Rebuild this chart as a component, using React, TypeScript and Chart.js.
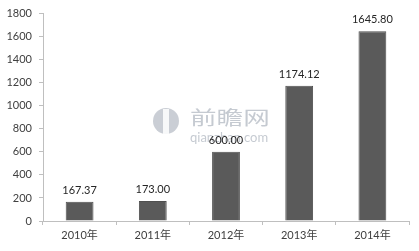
import React, { useEffect, useRef } from "react";
import { Chart, registerables } from "chart.js";

Chart.register(...registerables);

const years = ["2010年", "2011年", "2012年", "2013年", "2014年"];
const values = [167.37, 173.0, 600.0, 1174.12, 1645.8];
const yTicks = [0, 200, 400, 600, 800, 1000, 1200, 1400, 1600, 1800];

const FONT = "Lato, 'Noto Sans CJK SC', sans-serif";

// Value labels above each bar
const valueLabels = {
  id: "valueLabels",
  afterDatasetsDraw(chart: any) {
    const { ctx } = chart;
    const meta = chart.getDatasetMeta(0);
    ctx.save();
    ctx.font = `11px ${FONT}`;
    ctx.fillStyle = "#262626";
    ctx.textAlign = "center";
    ctx.textBaseline = "bottom";
    meta.data.forEach((bar: any, i: number) => {
      ctx.fillText(values[i].toFixed(2), bar.x, bar.y - 6);
    });
    ctx.restore();
  },
};

// Faint site mark behind the bars
const siteMark = {
  id: "siteMark",
  beforeDatasetsDraw(chart: any) {
    const { ctx } = chart;
    ctx.save();
    ctx.fillStyle = "rgba(150,158,172,0.5)";
    ctx.beginPath();
    ctx.arc(166, 121, 13, 0, Math.PI * 2);
    ctx.fill();
    ctx.fillStyle = "rgba(255,255,255,0.85)";
    ctx.fillRect(163, 109, 6, 25);
    ctx.fillStyle = "rgba(150,158,172,0.55)";
    ctx.textBaseline = "middle";
    ctx.save();
    ctx.translate(190, 118);
    ctx.scale(1.4, 1);
    ctx.font = `19px 'Noto Sans CJK SC', sans-serif`;
    ctx.fillText("前瞻网", 0, 0);
    ctx.restore();
    ctx.font = `13px ${FONT}`;
    ctx.fillText("qianzhan.com", 190, 138);
    ctx.restore();
  },
};

export default function App() {
  const ref = useRef<HTMLCanvasElement>(null);

  useEffect(() => {
    document.body.style.margin = "0";
    const chart = new Chart(ref.current!, {
      type: "bar",
      data: {
        labels: years,
        datasets: [
          {
            data: values,
            backgroundColor: "#5a5a5a",
            borderColor: "#4f4f4f",
            borderWidth: 1,
            barPercentage: 0.38,
            categoryPercentage: 1,
          },
        ],
      },
      options: {
        animation: false,
        responsive: false,
        devicePixelRatio: 1,
        layout: { padding: { top: 13, right: 10, bottom: 0, left: 0 } },
        plugins: { legend: { display: false }, tooltip: { enabled: false } },
        scales: {
          x: {
            offset: true,
            grid: {
              offset: true,
              drawOnChartArea: false,
              drawTicks: true,
              tickLength: 4,
              color: "#bfbfbf",
            },
            border: { color: "#bfbfbf" },
            ticks: { color: "#404040", font: { family: FONT, size: 11 }, padding: 4 },
            afterFit(scale: any) {
              scale.height = 30;
            },
          },
          y: {
            min: 0,
            max: 1800,
            afterBuildTicks(scale: any) {
              scale.ticks = yTicks.map((v) => ({ value: v }));
            },
            grid: {
              drawOnChartArea: false,
              drawTicks: true,
              tickLength: 4,
              color: "#bfbfbf",
            },
            border: { color: "#bfbfbf" },
            ticks: {
              color: "#404040",
              font: { family: FONT, size: 11 },
              padding: 7,
              callback: (v: any) => String(v),
            },
            afterFit(scale: any) {
              scale.width = 43;
            },
          },
        },
      },
      plugins: [siteMark, valueLabels],
    });
    return () => chart.destroy();
  }, []);

  return <canvas ref={ref} width={419} height={251} style={{ display: "block" }} />;
}
